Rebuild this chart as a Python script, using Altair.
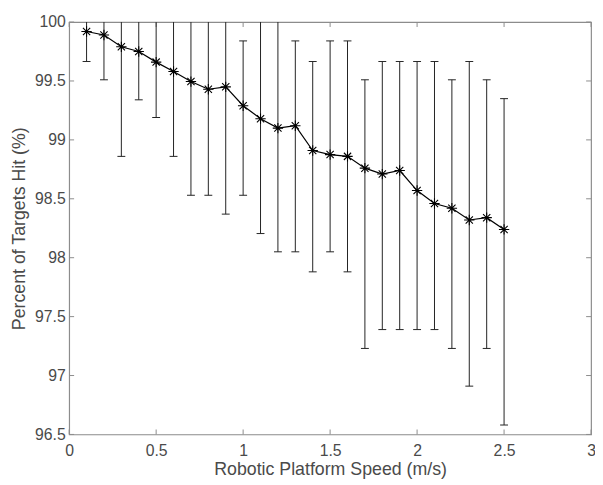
import altair as alt
import pandas as pd

speed = [0.1, 0.2, 0.3, 0.4, 0.5, 0.6, 0.7, 0.8, 0.9, 1.0, 1.1, 1.2, 1.3,
         1.4, 1.5, 1.6, 1.7, 1.8, 1.9, 2.0, 2.1, 2.2, 2.3, 2.4, 2.5]
mean_hit = [99.92, 99.89, 99.79, 99.75, 99.66, 99.58, 99.495, 99.43, 99.45,
            99.29, 99.18, 99.10, 99.12, 98.91, 98.875, 98.86, 98.76, 98.71,
            98.74, 98.57, 98.46, 98.42, 98.32, 98.34, 98.24]
lower = [99.665, 99.51, 98.86, 99.34, 99.19, 98.86, 98.53, 98.53, 98.37,
         98.53, 98.205, 98.05, 98.05, 97.88, 98.05, 97.88, 97.23, 97.39,
         97.39, 97.39, 97.39, 97.23, 96.91, 97.23, 96.58]
upper = [100, 100, 100, 100, 100, 100, 100, 100, 100, 99.84, 100, 100, 99.84,
         99.665, 99.84, 99.84, 99.51, 99.665, 99.665, 99.665, 99.665, 99.51,
         99.665, 99.51, 99.35]

x_ticks = [0, 0.5, 1, 1.5, 2, 2.5, 3]
y_ticks = [96.5, 97, 97.5, 98, 98.5, 99, 99.5, 100]

W, H = 529, 418
FRAME = "#8c8c8c"
TEXT = "#4a4a4a"
FONT = "Liberation Sans"

df = pd.DataFrame({"speed": speed, "mean": mean_hit, "lower": lower, "upper": upper})
caps_up = df[df["upper"] < 100]
xt = pd.DataFrame({"v": x_ticks})
yt = pd.DataFrame({"v": y_ticks})

xscale = alt.Scale(domain=[0, 3], nice=False, zero=False)
yscale = alt.Scale(domain=[96.5, 100], nice=False, zero=False)

xaxis = alt.Axis(values=x_ticks, title="Robotic Platform Speed (m/s)", grid=False,
                 domain=False, ticks=False, labelPadding=8, titlePadding=3,
                 labelFontSize=16, titleFontSize=18, labelColor=TEXT, titleColor=TEXT,
                 labelFont=FONT, titleFont=FONT, titleFontWeight="normal",
                 labelFlush=False, labelExpr="datum.value")
yaxis = alt.Axis(values=y_ticks, title="Percent of Targets Hit (%)", grid=False,
                 domain=False, ticks=False, labelPadding=4, titlePadding=6,
                 labelFontSize=16, titleFontSize=18, labelColor=TEXT, titleColor=TEXT,
                 labelFont=FONT, titleFont=FONT, titleFontWeight="normal",
                 labelFlush=False, labelExpr="datum.value")

base = alt.Chart(df)

bars = base.mark_rule(color="#222222", strokeWidth=1, clip=True).encode(
    x=alt.X("speed:Q", scale=xscale, axis=xaxis),
    y=alt.Y("lower:Q", scale=yscale, axis=yaxis),
    y2="upper:Q",
)
cap_lo = base.mark_tick(orient="horizontal", size=8, thickness=1, color="#222222", opacity=1).encode(
    x=alt.X("speed:Q", scale=xscale), y=alt.Y("lower:Q", scale=yscale))
cap_hi = alt.Chart(caps_up).mark_tick(orient="horizontal", size=8, thickness=1, color="#222222", opacity=1).encode(
    x=alt.X("speed:Q", scale=xscale), y=alt.Y("upper:Q", scale=yscale))

line = base.mark_line(color="black", strokeWidth=1.2).encode(
    x=alt.X("speed:Q", scale=xscale), y=alt.Y("mean:Q", scale=yscale))

star = "M-1,0L1,0M0,-1L0,1M-0.7,-0.7L0.7,0.7M-0.7,0.7L0.7,-0.7"
pts = base.mark_point(shape=star, size=110, filled=False, color="black",
                      strokeWidth=1.1, opacity=1).encode(
    x=alt.X("speed:Q", scale=xscale), y=alt.Y("mean:Q", scale=yscale))

tk = dict(color=FRAME, strokeWidth=1)
xb = alt.Chart(xt).mark_rule(**tk).encode(
    x=alt.X("v:Q", scale=xscale), y=alt.value(H), y2=alt.value(H - 5))
xtop = alt.Chart(xt).mark_rule(**tk).encode(
    x=alt.X("v:Q", scale=xscale), y=alt.value(0), y2=alt.value(5))
yl = alt.Chart(yt).mark_rule(**tk).encode(
    y=alt.Y("v:Q", scale=yscale), x=alt.value(0), x2=alt.value(5))
yr = alt.Chart(yt).mark_rule(**tk).encode(
    y=alt.Y("v:Q", scale=yscale), x=alt.value(W), x2=alt.value(W - 5))

chart = alt.layer(xb, xtop, yl, yr, bars, cap_lo, cap_hi, line, pts).properties(
    width=W, height=H,
    autosize=alt.AutoSizeParams(type="none"),
    padding={"left": 62, "top": 11, "right": 4, "bottom": 48},
    background="white",
).configure_view(stroke=FRAME, strokeWidth=1.2)

chart.save("out.html", embed_options={"renderer": "svg", "actions": False})
